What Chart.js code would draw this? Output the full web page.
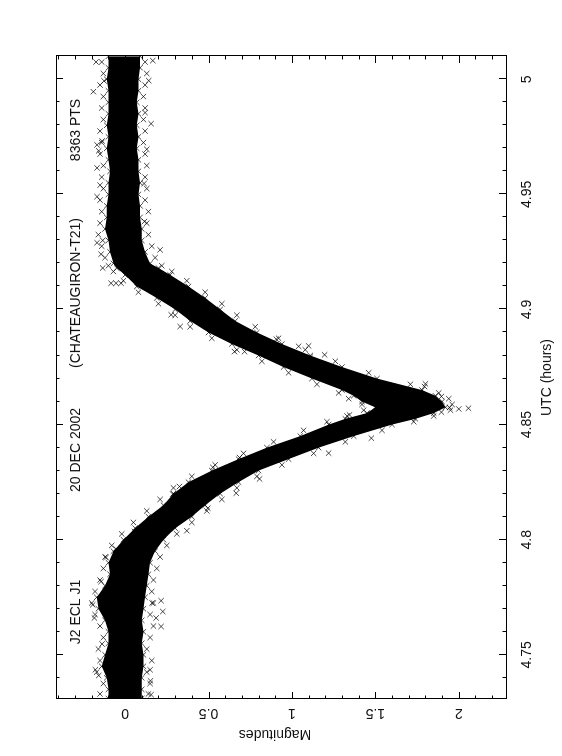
<!DOCTYPE html>
<html>
<head>
<meta charset="utf-8">
<script src="https://cdn.jsdelivr.net/npm/chart.js@4.4.1/dist/chart.umd.min.js"></script>
<style>
  html, body { margin: 0; padding: 0; background: #fff; overflow: hidden; }
  body { width: 562px; height: 756px; position: relative; }
  /* the plot is a landscape page turned a quarter turn to the left */
  #page { position: absolute; left: 0; top: 0; width: 756px; height: 562px;
          transform-origin: 0 0; transform: translate(0, 756px) rotate(-90deg); }
</style>
</head>
<body>
<div id="page"><canvas id="lc" width="756" height="562"></canvas></div>
<script>
// —————— DATA ——————
const titleParts = ['J2 ECL J1', '20 DEC 2002', '(CHATEAUGIRON-T21)', '8363 PTS'];
const utcTicks = [4.75, 4.8, 4.85, 4.9, 4.95, 5];
const magTicks = [0, 0.5, 1, 1.5, 2];
const utcRange = [4.7308, 5.0101];
const magRange = [-0.414, 2.283];

// dense core of the light curve: UTC (h), bright edge, faint edge (mag)
const bandUtc = [4.731, 4.735, 4.740, 4.745, 4.750, 4.755, 4.760, 4.765, 4.770, 4.775,
  4.780, 4.785, 4.790, 4.795, 4.800, 4.805, 4.810, 4.815, 4.820, 4.825,
  4.830, 4.835, 4.840, 4.845, 4.850, 4.8525, 4.855, 4.8575, 4.860, 4.8625,
  4.865, 4.870, 4.875, 4.880, 4.885, 4.890, 4.895, 4.900, 4.905, 4.910,
  4.915, 4.918, 4.920, 4.925, 4.930, 4.935, 4.940, 4.945, 4.950, 4.955,
  4.960, 4.965, 4.970, 4.975, 4.980, 4.985, 4.990, 4.995, 5.000, 5.005, 5.010];
const bandBright = [-0.10, -0.10, -0.11, -0.14, -0.12, -0.10, -0.10, -0.12, -0.16, -0.17,
  -0.12, -0.09, -0.10, -0.07, -0.01, 0.06, 0.14, 0.23, 0.29, 0.38,
  0.52, 0.68, 0.85, 1.05, 1.22, 1.32, 1.45, 1.50, 1.42, 1.37,
  1.30, 1.12, 0.95, 0.80, 0.64, 0.50, 0.39, 0.30, 0.19, 0.07,
  0.00, -0.05, -0.07, -0.09, -0.10, -0.12, -0.11, -0.11, -0.10, -0.10,
  -0.09, -0.10, -0.11, -0.10, -0.11, -0.10, -0.10, -0.10, -0.11, -0.10, -0.10];
const bandFaint = [0.10, 0.10, 0.10, 0.11, 0.11, 0.10, 0.11, 0.10, 0.11, 0.12,
  0.13, 0.14, 0.15, 0.18, 0.23, 0.30, 0.40, 0.48, 0.57, 0.68,
  0.80, 0.98, 1.16, 1.37, 1.60, 1.74, 1.85, 1.92, 1.90, 1.86,
  1.78, 1.51, 1.30, 1.11, 0.94, 0.79, 0.66, 0.57, 0.48, 0.38,
  0.27, 0.20, 0.15, 0.12, 0.10, 0.10, 0.09, 0.09, 0.08, 0.09,
  0.08, 0.08, 0.07, 0.08, 0.07, 0.08, 0.07, 0.08, 0.08, 0.09, 0.09];

// looser points just outside the core, on both sides
const fringeUtc = [4.733, 4.7375, 4.7425, 4.7475, 4.7525, 4.7575, 4.7625, 4.7675, 4.7725, 4.7775,
  4.7825, 4.7875, 4.7925, 4.7975, 4.8025, 4.8075, 4.8125, 4.8175, 4.8225, 4.8275,
  4.8325, 4.8375, 4.8425, 4.8475, 4.85125, 4.85375, 4.85625, 4.85875, 4.86125, 4.86375,
  4.8675, 4.8725, 4.8775, 4.8825, 4.8875, 4.8925, 4.8975, 4.9025, 4.9075, 4.9125,
  4.9165, 4.919, 4.9225, 4.9275, 4.9325, 4.9375, 4.9425, 4.9475, 4.9525, 4.9575,
  4.9625, 4.9675, 4.9725, 4.9775, 4.9825, 4.9875, 4.9925, 4.9975, 5.0025, 5.0075];
const fringeBright = [-0.15, -0.13, -0.17, -0.15, -0.16, -0.13, -0.15, -0.18, -0.20, -0.18,
  -0.15, -0.13, -0.12, -0.08, -0.02, 0.05, 0.13, 0.21, 0.29, 0.40,
  0.54, 0.71, 0.89, 1.07, 1.21, 1.33, 1.43, 1.42, 1.34, 1.28,
  1.15, 0.98, 0.82, 0.67, 0.52, 0.39, 0.30, 0.20, 0.08, -0.01,
  -0.07, -0.10, -0.12, -0.14, -0.16, -0.15, -0.14, -0.15, -0.13, -0.14,
  -0.13, -0.15, -0.14, -0.15, -0.13, -0.14, -0.13, -0.15, -0.13, -0.14];
const fringeFaint = [0.14, 0.15, 0.13, 0.16, 0.13, 0.15, 0.17, 0.15, 0.17, 0.16,
  0.17, 0.19, 0.21, 0.25, 0.31, 0.40, 0.49, 0.58, 0.67, 0.79,
  0.94, 1.13, 1.32, 1.54, 1.73, 1.85, 1.95, 1.96, 1.94, 1.88,
  1.71, 1.46, 1.26, 1.08, 0.92, 0.78, 0.67, 0.58, 0.48, 0.37,
  0.28, 0.22, 0.18, 0.16, 0.14, 0.13, 0.14, 0.12, 0.13, 0.12,
  0.13, 0.12, 0.11, 0.12, 0.11, 0.12, 0.11, 0.12, 0.13, 0.12];

// stray points well outside the core
const strayUtc = [5.0075, 5.0081, 4.9946, 4.9994, 4.9855, 4.9807, 4.9696, 4.9689, 4.9540, 4.9732,
  4.9993, 4.9547, 4.9382, 4.9300, 4.9259, 4.9240, 4.9180, 4.9114, 4.9114, 4.9114,
  4.8977, 4.8926, 4.8998, 4.8817, 4.8817, 4.8871, 4.8840, 4.8842, 4.8793, 4.8803,
  4.8677, 4.8665, 4.8622, 4.8574, 4.8568, 4.8571, 4.8554, 4.8441, 4.8542, 4.8376,
  4.8357, 4.8314, 4.8198, 4.8039, 4.8137, 4.8202, 4.8231, 4.8264, 4.8036, 4.7960,
  4.7818, 4.7923, 4.7735, 4.7688, 4.7623, 4.7660, 4.7725, 4.7547, 4.7435, 4.7410,
  4.7660, 4.7717, 4.7387, 4.7327, 4.7435, 4.9715, 4.9615, 4.9490, 4.9290];
const strayMag = [-0.174, 0.166, -0.190, 0.142, 0.120, 0.156, 0.130, -0.158, -0.150, -0.138,
  -0.126, 0.114, 0.116, -0.134, 0.210, -0.144, -0.134, -0.084, -0.054, -0.024,
  0.276, 0.330, 0.540, 0.656, 0.716, 0.906, 1.040, 1.100, 1.110, 1.196,
  1.800, 1.795, 1.896, 1.945, 2.000, 2.058, 1.896, 1.476, 1.345, 1.220,
  0.686, 0.526, 0.286, 0.370, 0.496, 0.666, 0.326, 0.806, 0.056, -0.054,
  -0.144, -0.114, 0.216, 0.226, 0.216, 0.186, 0.162, -0.138, -0.178, -0.158,
  -0.184, -0.194, 0.152, 0.156, 0.150, -0.168, -0.168, -0.168, -0.168];

const pts = (xs, ys) => xs.map((x, i) => ({ x: x, y: ys[i] }));

// —————— FRAME, TICKS & TEXT (PGPLOT style) ——————
const pgFrame = {
  id: 'pgFrame',
  afterDraw(chart) {
    const { ctx, chartArea: a, scales: { x, y } } = chart;
    ctx.save();
    ctx.strokeStyle = '#000';
    ctx.lineWidth = 1;
    ctx.strokeRect(Math.round(a.left) + 0.5, Math.round(a.top) + 0.5,
      Math.round(a.right - a.left), Math.round(a.bottom - a.top));

    ctx.beginPath();
    // UTC ticks, inward, top and bottom
    for (let k = 474; k <= 501; k++) {
      const px = Math.round(x.getPixelForValue(k / 100)) + 0.5;
      const len = k % 5 === 0 ? 7 : 3.5;
      ctx.moveTo(px, a.bottom); ctx.lineTo(px, a.bottom - len);
      ctx.moveTo(px, a.top); ctx.lineTo(px, a.top + len);
    }
    // magnitude ticks, inward, left and right
    for (let k = -4; k <= 22; k++) {
      const py = Math.round(y.getPixelForValue(k / 10)) + 0.5;
      const len = k % 5 === 0 ? 7 : 3.5;
      ctx.moveTo(a.left, py); ctx.lineTo(a.left + len, py);
      ctx.moveTo(a.right, py); ctx.lineTo(a.right - len, py);
    }
    ctx.stroke();

    ctx.fillStyle = '#111';
    ctx.font = '14px "Liberation Sans", Arial, sans-serif';
    ctx.textAlign = 'center';
    ctx.textBaseline = 'middle';
    utcTicks.forEach(v => ctx.fillText(String(v), x.getPixelForValue(v), a.bottom + 21));
    ctx.fillText('UTC (hours)', (a.left + a.right) / 2, a.bottom + 41);

    magTicks.forEach(v => {
      ctx.save();
      ctx.translate(a.left - 14, y.getPixelForValue(v));
      ctx.rotate(-Math.PI / 2);
      ctx.fillText(String(v), 0, 0);
      ctx.restore();
    });
    ctx.save();
    ctx.translate(a.left - 35, 275);
    ctx.rotate(-Math.PI / 2);
    ctx.fillText('Magnitudes', 0, 0);
    ctx.restore();

    const titleAt = [144, 306, 463, 626];
    titleParts.forEach((s, i) => ctx.fillText(s, titleAt[i], 76));
    ctx.restore();
  }
};

// —————— CHART ——————
const cross = {
  showLine: false,
  pointStyle: 'crossRot',
  pointRadius: 3.8,
  pointBorderWidth: 1,
  pointBorderColor: 'rgba(0,0,0,0.72)',
  pointBackgroundColor: 'rgba(0,0,0,0)',
  fill: false
};

new Chart(document.getElementById('lc'), {
  type: 'line',
  data: {
    datasets: [
      Object.assign({}, cross, { label: 'bright', data: pts(bandUtc, bandBright),
        showLine: true, borderWidth: 0, borderColor: 'rgba(0,0,0,0)',
        backgroundColor: '#000', fill: '+1' }),
      Object.assign({}, cross, { label: 'faint', data: pts(bandUtc, bandFaint),
        showLine: true, borderWidth: 0, borderColor: 'rgba(0,0,0,0)' }),
      Object.assign({}, cross, { label: 'fringe bright', data: pts(fringeUtc, fringeBright) }),
      Object.assign({}, cross, { label: 'fringe faint', data: pts(fringeUtc, fringeFaint) }),
      Object.assign({}, cross, { label: 'stray', data: pts(strayUtc, strayMag) })
    ]
  },
  options: {
    responsive: false,
    animation: false,
    devicePixelRatio: 1,
    layout: { padding: { left: 57, right: 56, top: 56, bottom: 56 } },
    plugins: { legend: { display: false }, tooltip: { enabled: false } },
    elements: { line: { tension: 0 } },
    scales: {
      x: { type: 'linear', min: utcRange[0], max: utcRange[1], display: false },
      y: { type: 'linear', min: magRange[0], max: magRange[1], reverse: true, display: false }
    }
  },
  plugins: [pgFrame]
});
</script>
</body>
</html>
